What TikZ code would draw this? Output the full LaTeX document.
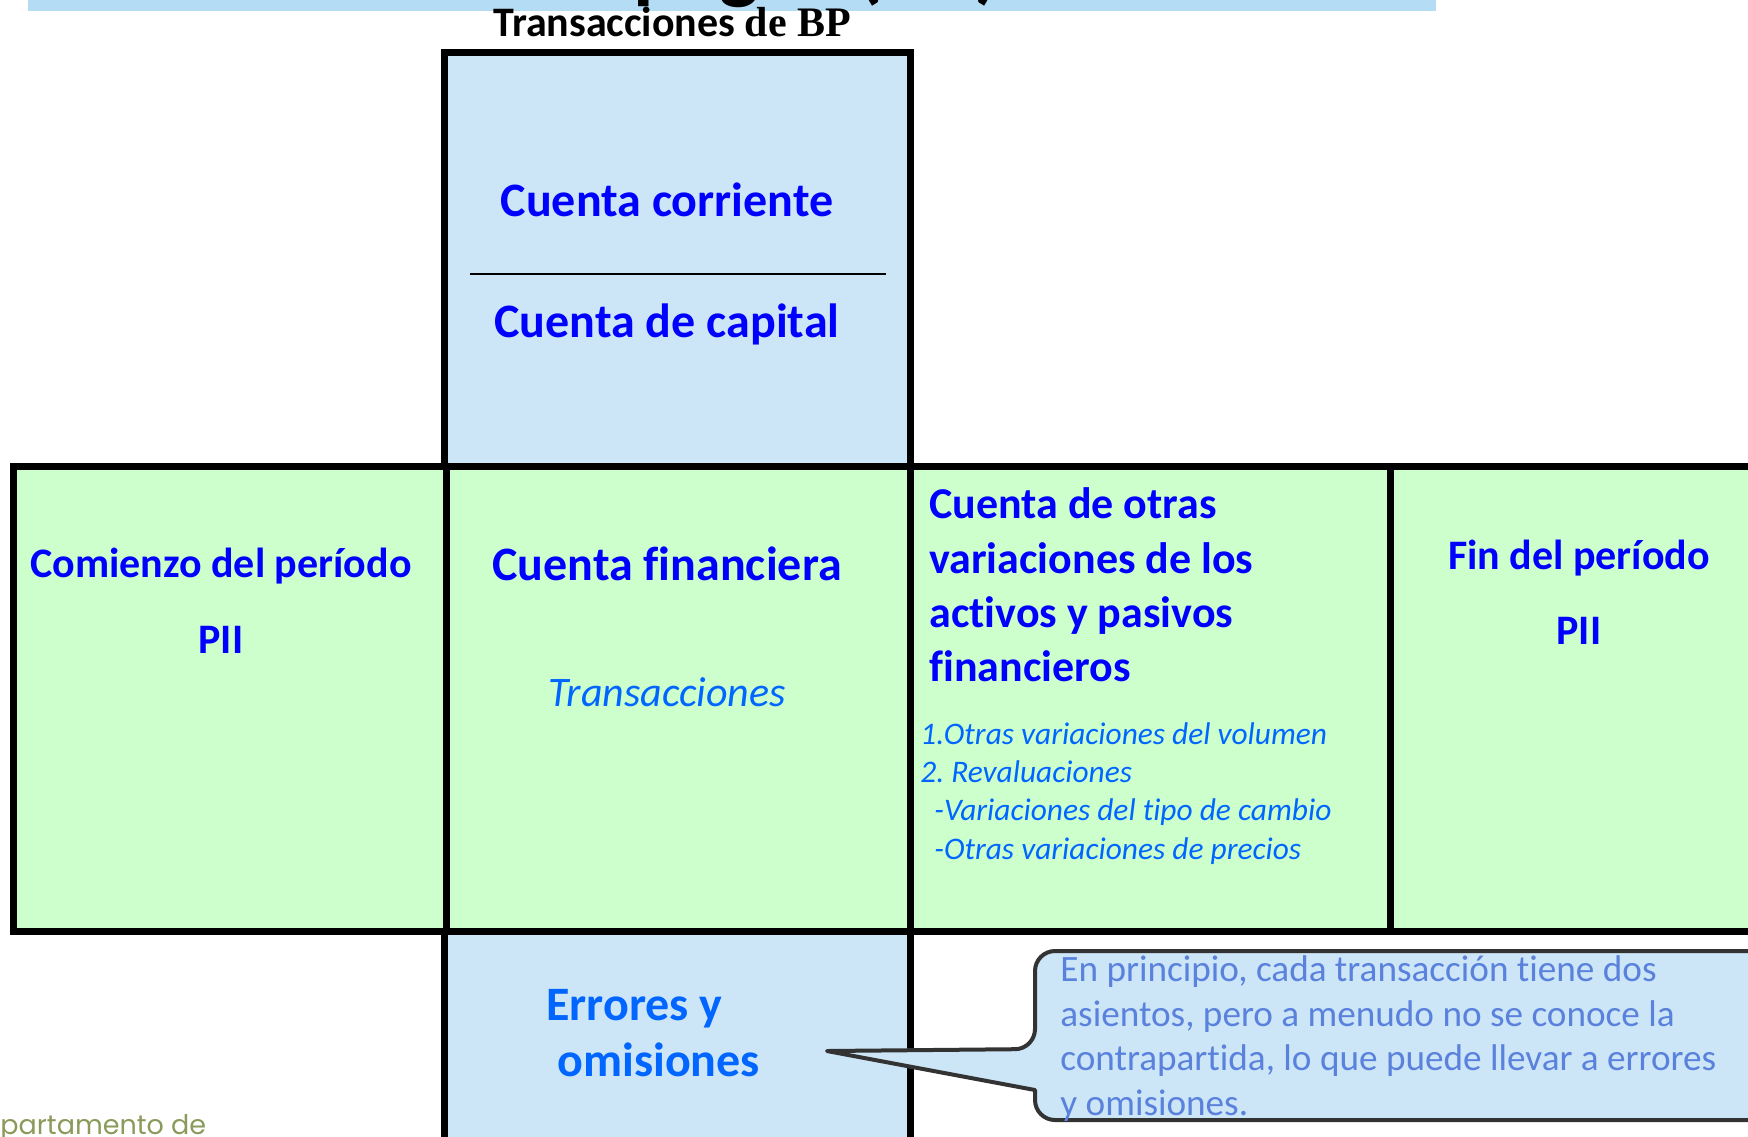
\documentclass[tikz,border=0pt]{standalone}
\usepackage{fontspec}
\setmainfont{Carlito}[Ligatures=NoCommon]
\newfontfamily\bpserif{Liberation Serif}
\newfontfamily\deptfont{Poppins}
\definecolor{boxblue}{RGB}{204,229,247}
\definecolor{boxgreen}{RGB}{204,255,204}
\definecolor{barblue}{RGB}{180,220,244}
\definecolor{hdblue}{RGB}{0,0,255}
\definecolor{itblue}{RGB}{0,102,255}
\definecolor{noteblue}{RGB}{90,130,220}
\definecolor{notegray}{RGB}{51,51,51}
\definecolor{deptolive}{RGB}{138,154,91}
\frenchspacing

\begin{document}
\begin{tikzpicture}[x=0.5pt, y=-0.5pt, inner sep=0pt,
    frame/.style = {line width=3.5pt},
    big/.style   = {anchor=base, text=hdblue, font=\bfseries\fontsize{24}{29}\selectfont},
    side/.style  = {anchor=base, text=hdblue, font=\bfseries\fontsize{21}{25}\selectfont},
    otras/.style = {anchor=base west, text=hdblue, font=\bfseries\fontsize{22}{27}\selectfont},
    lista/.style = {anchor=base west, text=itblue, font=\itshape\fontsize{15.7}{19}\selectfont},
    nota/.style  = {anchor=base west, text=noteblue, font=\fontsize{18.6}{22.3}\selectfont}]
  \useasboundingbox (0,0) rectangle (1748,1136);
  \clip (0,0) rectangle (1748,1136);

  % title bar, mostly off the page
  \fill[barblue] (28,0) rectangle (1436,11);
  \node[anchor=base east, font=\bfseries\fontsize{42}{50}\selectfont] (titulo) at (1001,-7) {pagos (BP)};
  \node[anchor=base west, font=\bfseries\fontsize{21}{25}\selectfont] (bp) at (493,36)
    {Transacciones {\bpserif de BP}};

  % boxes
  \filldraw[frame, fill=boxblue] (444,52) rectangle (910,466);
  \filldraw[frame, fill=boxgreen] (13,466) rectangle (1770,931);
  \draw[frame] (446,466) -- (446,931);
  \draw[frame] (910,466) -- (910,931);
  \draw[frame] (1390,466) -- (1390,931);
  \filldraw[frame, fill=boxblue] (444,931) rectangle (910,1160);
  \draw[line width=0.6pt] (470,274) -- (886,274);

  % top box
  \node[big] (cc) at (667,216) {Cuenta corriente};
  \node[big] (ck) at (667,337) {Cuenta de capital};

  % middle row
  \node[side] (comienzo) at (221,577) {Comienzo del período};
  \node[side] (pii1) at (221,653) {PII};
  \node[big] (cf) at (667,580) {Cuenta financiera};
  \node[anchor=base, text=itblue, font=\itshape\fontsize{21}{25}\selectfont] (trans) at (667,706) {Transacciones};
  \node[otras] (otras1) at (929,518) {Cuenta de otras};
  \node[otras] (otras2) at (929,573) {variaciones de los};
  \node[otras] (otras3) at (929,627) {activos y pasivos};
  \node[otras] (otras4) at (929,681) {financieros};
  \node[lista] (lista1) at (920,744) {1.Otras variaciones del volumen};
  \node[lista] (lista2) at (920,782) {2. Revaluaciones};
  \node[lista] (lista3) at (934,820) {-Variaciones del tipo de cambio};
  \node[lista] (lista4) at (934,859) {-Otras variaciones de precios};
  \node[side] (fin) at (1579,569) {Fin del período};
  \node[side] (pii2) at (1579,644) {PII};

  % bottom box
  \node[anchor=base west, text=itblue, font=\bfseries\fontsize{24}{29}\selectfont] (err1) at (546,1020) {Errores y};
  \node[anchor=base west, text=itblue, font=\bfseries\fontsize{24}{29}\selectfont] (err2) at (557,1076) {omisiones};

  % callout
  \coordinate (punta) at (827,1051);
  \filldraw[line width=2pt, draw=notegray, fill=boxblue, line join=round]
    (1035,1090) [rounded corners=10pt] -- (1035,1120) -- (1770,1120) -- (1770,951)
    -- (1035,951) -- (1035,1049) [sharp corners] -- (punta) -- cycle;
  \node[nota] (nota1) at (1060,981) {En principio, cada transacción tiene dos};
  \node[nota] (nota2) at (1060,1026) {asientos, pero a menudo no se conoce la};
  \node[nota] (nota3) at (1060,1070) {contrapartida, lo que puede llevar a errores};
  \node[nota] (nota4) at (1060,1115) {y omisiones.};

  \node[anchor=base west, text=deptolive, font=\deptfont\fontsize{13.5}{16}\selectfont] (depto) at (0,1134) {partamento de};
\end{tikzpicture}
\end{document}
